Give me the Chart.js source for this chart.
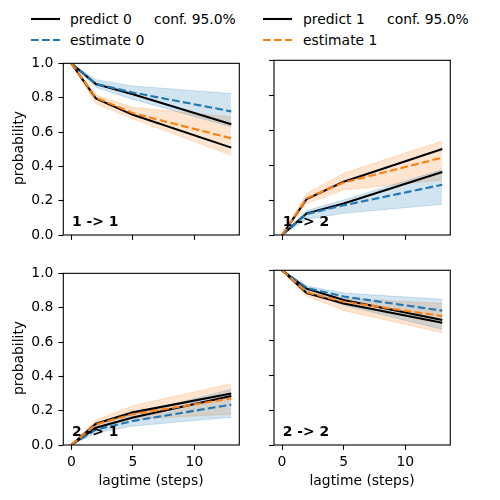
<!DOCTYPE html>
<html lang="en">
<head>
    <meta charset="UTF-8">
    <title>CK test</title>
    <style>
        body { margin: 0; background: #fff; }
        #fig { position: relative; width: 500px; height: 500px; font-family: "DejaVu Sans", sans-serif; font-size: 13.9px; color: #000; }
        #fig canvas { position: absolute; }
        .txt { position: absolute; white-space: nowrap; line-height: 1.15; }
        .mid { transform: translate(-50%, -50%); }
        .rot { transform: translate(-50%, -50%) rotate(-90deg); }
        .leg { transform: translateY(-50%); }
        .handle { position: absolute; }
    </style>
</head>
<body>
    <div id="fig">
        <!-- legend: dataset 0 -->
        <svg class="handle" style="left:31px;top:17px" width="29" height="4"><line x1="0" y1="2" x2="29" y2="2" stroke="#000" stroke-width="2.1"/></svg>
        <div class="txt leg" style="left:70px;top:19px">predict 0</div>
        <div class="txt leg" style="left:154px;top:19px">conf. 95.0%</div>
        <svg class="handle" style="left:31px;top:38px" width="29" height="4"><line x1="0" y1="2" x2="29" y2="2" stroke="#1f77b4" stroke-width="2.1" stroke-dasharray="7.7 3.3"/></svg>
        <div class="txt leg" style="left:70px;top:40px">estimate 0</div>
        <!-- legend: dataset 1 -->
        <svg class="handle" style="left:263px;top:17px" width="29" height="4"><line x1="0" y1="2" x2="29" y2="2" stroke="#000" stroke-width="2.1"/></svg>
        <div class="txt leg" style="left:303px;top:19px">predict 1</div>
        <div class="txt leg" style="left:387px;top:19px">conf. 95.0%</div>
        <svg class="handle" style="left:263px;top:38px" width="29" height="4"><line x1="0" y1="2" x2="29" y2="2" stroke="#ff7f0e" stroke-width="2.1" stroke-dasharray="7.7 3.3"/></svg>
        <div class="txt leg" style="left:303px;top:40px">estimate 1</div>

        <canvas id="p0" width="250" height="210" style="left:0;top:50px"></canvas>
        <canvas id="p1" width="250" height="210" style="left:250px;top:50px"></canvas>
        <canvas id="p2" width="250" height="240" style="left:0;top:260px"></canvas>
        <canvas id="p3" width="250" height="240" style="left:250px;top:260px"></canvas>

        <div class="txt rot" style="left:18px;top:148px">probability</div>
        <div class="txt rot" style="left:18px;top:358px">probability</div>
        <div class="txt mid" style="left:151px;top:480px">lagtime (steps)</div>
        <div class="txt mid" style="left:362px;top:480px">lagtime (steps)</div>
    </div>

    <script src="https://cdn.jsdelivr.net/npm/chart.js"></script>
    <script>
        // lag times and tick labels
        const lagtimes = [0, 2, 5, 13];
        const xTicks = [0, 5, 10];
        const yTicks = [0, 0.2, 0.4, 0.6, 0.8, 1.0];
        const panelLabels = ['1 -> 1', '1 -> 2', '2 -> 1', '2 -> 2'];

        // dataset 0 (blue), one row per panel: 1->1, 1->2, 2->1, 2->2
        const predict0 = [
            [1, 0.88, 0.82, 0.645],
            [0, 0.124, 0.18, 0.36],
            [0, 0.10, 0.16, 0.286],
            [1, 0.895, 0.83, 0.716]
        ];
        const estimate0 = [
            [1, 0.88, 0.83, 0.72],
            [0, 0.12, 0.17, 0.288],
            [0, 0.09, 0.14, 0.235],
            [1, 0.90, 0.85, 0.769]
        ];
        const conf0Low = [
            [1, 0.86, 0.79, 0.63],
            [0, 0.09, 0.124, 0.176],
            [0, 0.07, 0.11, 0.162],
            [1, 0.88, 0.80, 0.662]
        ];
        const conf0High = [
            [1, 0.905, 0.868, 0.824],
            [0, 0.14, 0.20, 0.375],
            [0, 0.12, 0.18, 0.324],
            [1, 0.91, 0.87, 0.834]
        ];

        // dataset 1 (orange)
        const predict1 = [
            [1, 0.796, 0.70, 0.509],
            [0, 0.206, 0.305, 0.492],
            [0, 0.124, 0.19, 0.30],
            [1, 0.87, 0.81, 0.70]
        ];
        const estimate1 = [
            [1, 0.80, 0.71, 0.563],
            [0, 0.21, 0.30, 0.443],
            [0, 0.12, 0.18, 0.271],
            [1, 0.874, 0.82, 0.738]
        ];
        const conf1Low = [
            [1, 0.765, 0.677, 0.464],
            [0, 0.18, 0.258, 0.315],
            [0, 0.10, 0.15, 0.18],
            [1, 0.853, 0.77, 0.643]
        ];
        const conf1High = [
            [1, 0.815, 0.744, 0.687],
            [0, 0.238, 0.353, 0.538],
            [0, 0.145, 0.229, 0.357],
            [1, 0.89, 0.84, 0.81]
        ];

        const FONT = '"DejaVu Sans", sans-serif';
        const BLUE = '#1f77b4', ORANGE = '#ff7f0e';
        const BLUE_A = 'rgba(31,119,180,0.2)', ORANGE_A = 'rgba(255,127,14,0.2)';

        const pts = arr => lagtimes.map((t, i) => ({ x: t, y: arr[i] }));

        // frame on all four sides + panel label
        const framePlugin = {
            id: 'frame',
            afterDatasetsDraw(chart, args, opts) {
                const { ctx, chartArea: a } = chart;
                ctx.save();
                ctx.strokeStyle = '#000';
                ctx.lineWidth = 1.1;
                ctx.strokeRect(a.left, a.top, a.right - a.left, a.bottom - a.top);
                ctx.font = 'bold 13.9px ' + FONT;
                ctx.fillStyle = '#000';
                ctx.textAlign = 'left';
                ctx.textBaseline = 'alphabetic';
                ctx.fillText(opts.label, a.left + 0.05 * (a.right - a.left), a.bottom - 0.05 * (a.bottom - a.top));
                ctx.restore();
            }
        };

        function band(lo, hi, color) {
            return [
                { data: pts(hi), borderColor: color, backgroundColor: color, borderWidth: 1, pointRadius: 0, fill: false, order: 10 },
                { data: pts(lo), borderColor: color, backgroundColor: color, borderWidth: 1, pointRadius: 0, fill: '-1', order: 10 }
            ];
        }

        function line(arr, color, dashed, order) {
            return {
                data: pts(arr), borderColor: color, borderWidth: 2.1, pointRadius: 0, fill: false,
                borderDash: dashed ? [7.7, 3.3] : [], order: order
            };
        }

        function makePanel(i, showX, showY, yW, xH, padRight) {
            const ctx = document.getElementById('p' + i).getContext('2d');
            const tickGrid = { drawOnChartArea: false, drawTicks: true, tickLength: 4.9, tickWidth: 1.1, tickColor: '#000' };
            return new Chart(ctx, {
                type: 'line',
                data: {
                    datasets: [
                        ...band(conf0Low[i], conf0High[i], BLUE_A),
                        ...band(conf1Low[i], conf1High[i], ORANGE_A),
                        line(predict0[i], '#000', false, 4),
                        line(estimate0[i], BLUE, true, 3),
                        line(predict1[i], '#000', false, 2),
                        line(estimate1[i], ORANGE, true, 1)
                    ]
                },
                options: {
                    responsive: false,
                    animation: false,
                    layout: { padding: { top: 10.3, right: padRight, left: 0, bottom: 0 } },
                    elements: { line: { tension: 0 } },
                    plugins: {
                        legend: { display: false },
                        tooltip: { enabled: false },
                        frame: { label: panelLabels[i] }
                    },
                    scales: {
                        x: {
                            type: 'linear', min: -0.65, max: 13.65,
                            afterBuildTicks: s => { s.ticks = xTicks.map(v => ({ value: v })); },
                            afterFit: s => { s.height = xH; },
                            grid: tickGrid,
                            border: { display: false },
                            ticks: { display: showX, color: '#000', font: { family: FONT, size: 13.9 }, padding: 4, maxRotation: 0, autoSkip: false, callback: v => String(v) }
                        },
                        y: {
                            min: 0, max: 1,
                            afterBuildTicks: s => { s.ticks = yTicks.map(v => ({ value: v })); },
                            afterFit: s => { s.width = yW; },
                            grid: tickGrid,
                            border: { display: false },
                            ticks: { display: showY, color: '#000', font: { family: FONT, size: 13.9 }, padding: 5, autoSkip: false, callback: v => v.toFixed(1) }
                        }
                    }
                },
                plugins: [framePlugin]
            });
        }

        makePanel(0, false, true, 63.3, 25, 10.7);
        makePanel(1, false, false, 24, 25, 49.7);
        makePanel(2, true, true, 63.3, 55, 10.7);
        makePanel(3, true, false, 24, 55, 49.7);
    </script>
</body>
</html>
